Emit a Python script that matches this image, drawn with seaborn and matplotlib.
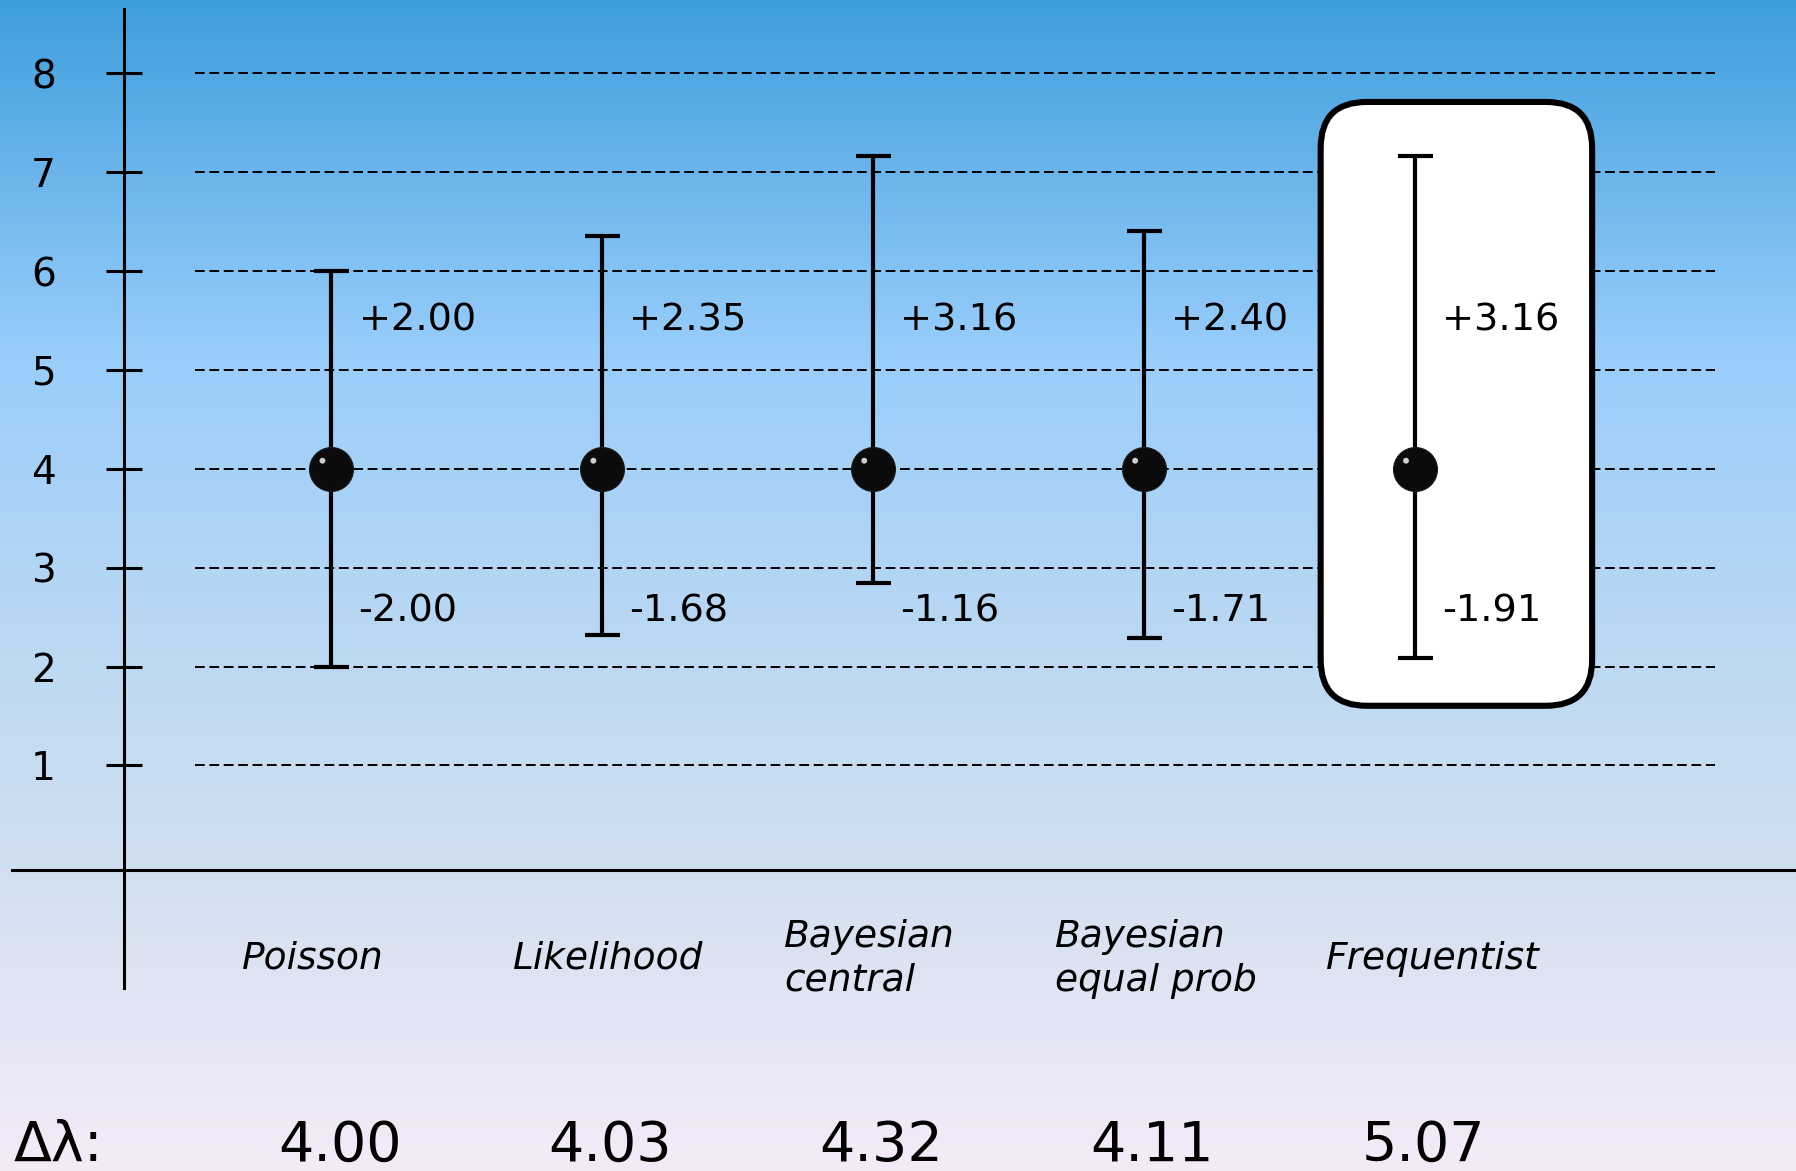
import numpy as np
import pandas as pd
import matplotlib
matplotlib.use("Agg")
import matplotlib.pyplot as plt
from matplotlib.patches import FancyBboxPatch
from matplotlib.transforms import ScaledTranslation
import seaborn as sns

# ---- data ----
methods = ["Poisson", "Likelihood", "Bayesian\ncentral", "Bayesian\nequal prob", "Frequentist"]
estimate = [4.0, 4.0, 4.0, 4.0, 4.0]
err_plus = [2.00, 2.35, 3.16, 2.40, 3.16]
err_minus = [2.00, 1.68, 1.16, 1.71, 1.91]
interval_width = [4.00, 4.03, 4.32, 4.11, 5.07]
y_ticks = [1, 2, 3, 4, 5, 6, 7, 8]

df = pd.DataFrame({
    "method": methods,
    "pos": np.arange(len(methods)),
    "estimate": estimate,
    "plus": err_plus,
    "minus": err_minus,
    "width": interval_width,
})

sns.set_theme(style="white")
plt.rcParams["font.family"] = ["DejaVu Sans"]
plt.rcParams["text.color"] = "black"

fig = plt.figure(figsize=(17.96, 11.71), dpi=100)
ax = fig.add_axes([0, 0, 1, 1])
XL = (-1.2237, 5.4063)
YL = (-3.102, 8.741)
ax.set_xlim(*XL)
ax.set_ylim(*YL)
ax.set_facecolor("none")

# vertical background gradient
stops = np.array([0.0, 0.30, 0.55, 0.75, 1.0])
cols = np.array([
    [62, 158, 220],
    [152, 205, 251],
    [187, 216, 243],
    [210, 224, 240],
    [245, 235, 248],
]) / 255.0
t = np.linspace(0, 1, 600)
grad = np.stack([np.interp(t, stops, cols[:, k]) for k in range(3)], axis=-1)[:, None, :]
ax.imshow(grad, extent=(XL[0], XL[1], YL[0], YL[1]), origin="upper",
          aspect="auto", zorder=0, interpolation="bilinear")

# dashed reference lines
ax.hlines(y_ticks, -0.505, 5.106, colors="black", linestyles=(0, (5, 2.4)),
          linewidth=1.4, zorder=1)

# highlighted box around the last method
box = FancyBboxPatch((3.6516, 1.603), 4.6537 - 3.6516, 7.710 - 1.603,
                     boxstyle="round,pad=0,rounding_size=0.17",
                     mutation_aspect=2.741, facecolor="white",
                     edgecolor="black", linewidth=4.4, zorder=2)
ax.add_patch(box)

# error bars and central estimates
ax.errorbar(df["pos"], df["estimate"], yerr=[df["minus"], df["plus"]],
            fmt="none", ecolor="black", elinewidth=3.0, capsize=12.6,
            capthick=3.0, zorder=4)
sns.scatterplot(data=df, x="pos", y="estimate", s=1000, color="#0b0b0b",
                edgecolor="#1a1a1a", linewidth=0.8, ax=ax, zorder=5, legend=False)
shine = ax.transData + ScaledTranslation(-6.5 / 72, 5.8 / 72, fig.dpi_scale_trans)
ax.scatter(df["pos"], df["estimate"], s=18, color="#cfcfcf", edgecolors="none",
           transform=shine, zorder=6)

# asymmetric error labels
for p, up, dn in zip(df["pos"], df["plus"], df["minus"]):
    ax.text(p + 0.10, 5.50, f"+{up:.2f}", fontsize=27.5, ha="left", va="center", zorder=7)
    ax.text(p + 0.10, 2.56, f"-{dn:.2f}", fontsize=27.5, ha="left", va="center", zorder=7)

# method names
for p, name in zip(df["pos"], df["method"]):
    ax.text(p - 0.33, -0.955, name, fontsize=27, style="italic", ha="left",
            va="center", multialignment="left", linespacing=1.3)

# interval widths
ax.text(-1.173, -3.0, "Δλ:", fontsize=40, ha="left", va="baseline")
for p, w in zip(df["pos"], df["width"]):
    ax.text(p + 0.03, -3.0, f"{w:.2f}", fontsize=40, ha="center", va="baseline")

# axes drawn as crossing lines
for s in ["top", "right"]:
    ax.spines[s].set_visible(False)
ax.spines["left"].set_position(("data", -0.767))
ax.spines["left"].set_bounds(-1.248, 8.649)
ax.spines["bottom"].set_position(("data", -0.06))
ax.spines["bottom"].set_bounds(-1.181, 5.406)
for s in ["left", "bottom"]:
    ax.spines[s].set_color("black")
    ax.spines[s].set_linewidth(2.2)
    ax.spines[s].set_zorder(3)
ax.set_xticks([])
ax.set_yticks(y_ticks)
ax.set_yticklabels([str(v) for v in y_ticks], fontsize=28)
ax.tick_params(axis="y", direction="inout", length=26, width=2.2, pad=36,
               colors="black", left=True)
ax.set_xlabel("")
ax.set_ylabel("")

fig.savefig("out.png", dpi=100)
